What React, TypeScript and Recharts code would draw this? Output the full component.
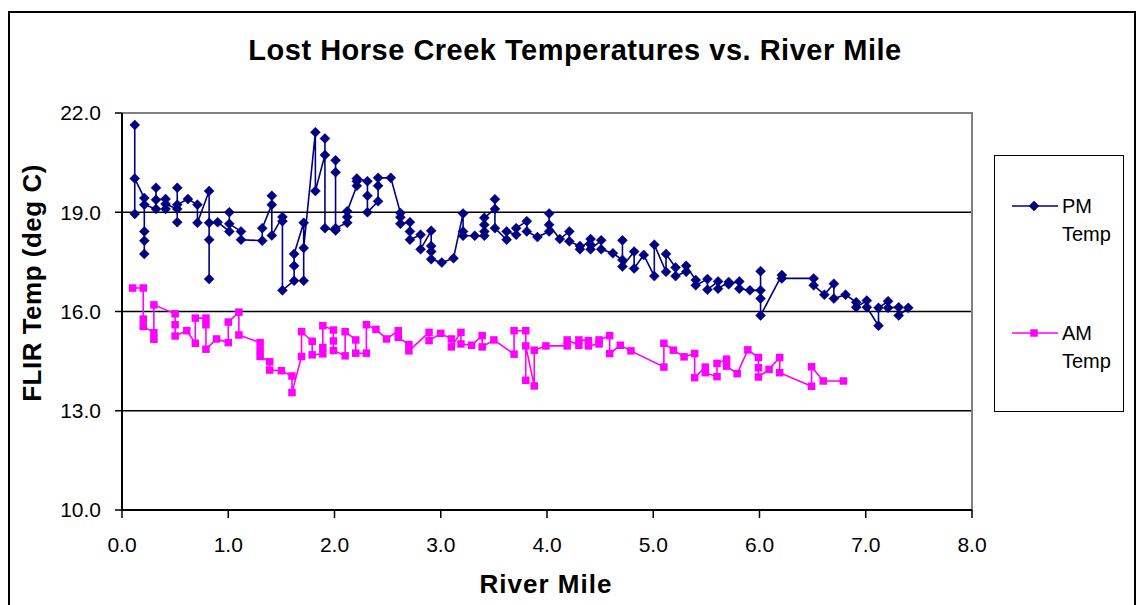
import React from "react";
import {
  ScatterChart,
  Scatter,
  XAxis,
  YAxis,
  CartesianGrid,
  ReferenceArea
} from "recharts";

const FONT = "Arial, 'Liberation Sans', sans-serif";

const xTicks = [0, 1, 2, 3, 4, 5, 6, 7, 8];
const yTicks = [10, 13, 16, 19, 22];
const gridY = [13, 16, 19];

// PM readings, in the order the points were joined
const pmMile = [
  0.12, 0.12, 0.12, 0.21, 0.21, 0.21, 0.21, 0.21, 0.32, 0.32, 0.32, 0.41, 0.41, 0.41,
  0.52, 0.52, 0.52, 0.52, 0.62, 0.71, 0.71, 0.82, 0.82, 0.82, 0.82, 0.9, 1.01, 1.01,
  1.01, 1.12, 1.12, 1.32, 1.32, 1.41, 1.41, 1.41, 1.51, 1.51, 1.51, 1.62, 1.62, 1.62,
  1.71, 1.71, 1.71, 1.82, 1.82, 1.91, 1.91, 1.91, 2.01, 2.01, 2.01, 2.01, 2.12, 2.12,
  2.12, 2.21, 2.21, 2.21, 2.31, 2.31, 2.31, 2.41, 2.41, 2.41, 2.53, 2.62, 2.62, 2.62,
  2.71, 2.71, 2.71, 2.81, 2.81, 2.91, 2.91, 2.91, 2.91, 3.01, 3.12, 3.21, 3.21, 3.21,
  3.32, 3.41, 3.41, 3.41, 3.41, 3.51, 3.51, 3.51, 3.62, 3.62, 3.71, 3.71, 3.81, 3.81,
  3.91, 4.02, 4.02, 4.02, 4.12, 4.21, 4.21, 4.31, 4.31, 4.41, 4.41, 4.41, 4.51, 4.51,
  4.62, 4.71, 4.71, 4.71, 4.82, 4.82, 4.91, 5.01, 5.01, 5.12, 5.12, 5.21, 5.21, 5.31,
  5.31, 5.4, 5.4, 5.51, 5.51, 5.61, 5.61, 5.71, 5.71, 5.81, 5.81, 5.91, 6.01, 6.01,
  6.01, 6.01, 6.21, 6.21, 6.51, 6.51, 6.61, 6.7, 6.7, 6.81, 6.91, 6.91, 7.01, 7.01,
  7.12, 7.12, 7.21, 7.21, 7.31, 7.31, 7.4
];
const pmTemp = [
  18.95, 21.64, 20.02, 19.43, 17.74, 18.14, 18.42, 19.23, 19.1, 19.74, 19.38, 19.4, 19.1, 19.25,
  19.1, 19.74, 18.7, 19.23, 19.4, 19.23, 18.68, 19.64, 16.98, 18.17, 18.68, 18.7, 18.42, 19.0,
  18.65, 18.42, 18.17, 18.14, 18.52, 19.23, 19.5, 18.3, 18.86, 18.73, 16.64, 16.93, 17.38, 17.74,
  18.68, 16.93, 17.92, 21.42, 19.64, 20.73, 21.23, 18.52, 18.45, 20.57, 20.21, 18.52, 18.68, 18.86,
  19.03, 19.8, 19.94, 20.02, 19.94, 19.5, 19.0, 19.33, 19.8, 20.04, 20.04, 18.98, 18.85, 18.65,
  18.7, 18.42, 18.17, 18.32, 17.88, 18.44, 17.98, 17.81, 17.58, 17.48, 17.61, 18.96, 18.42, 18.29,
  18.29, 18.29, 18.42, 18.62, 18.83, 19.1, 19.39, 18.52, 18.17, 18.42, 18.32, 18.52, 18.73, 18.42,
  18.25, 18.42, 18.96, 18.62, 18.19, 18.42, 18.12, 17.98, 17.88, 18.19, 18.02, 17.88, 18.15, 17.88,
  17.76, 17.56, 18.15, 17.36, 17.81, 17.3, 17.71, 17.07, 18.02, 17.2, 17.74, 17.33, 17.07, 17.2,
  17.38, 16.95, 16.79, 16.98, 16.66, 16.91, 16.69, 16.89, 16.82, 16.91, 16.69, 16.64, 16.64, 17.22,
  16.39, 15.88, 17.1, 17.0, 17.0, 16.79, 16.51, 16.84, 16.39, 16.51, 16.28, 16.13, 16.33, 16.13,
  15.57, 16.11, 16.31, 16.11, 16.13, 15.88, 16.11
];

// AM readings
const amMile = [
  0.1, 0.2, 0.2, 0.2, 0.3, 0.3, 0.3, 0.5, 0.5, 0.5, 0.61, 0.69, 0.69, 0.79, 0.79, 0.79,
  0.89, 1.0, 1.0, 1.1, 1.1, 1.3, 1.3, 1.3, 1.39, 1.39, 1.5, 1.6, 1.6, 1.69, 1.69, 1.79,
  1.79, 1.89, 1.89, 1.89, 1.99, 1.99, 1.99, 2.1, 2.1, 2.2, 2.2, 2.3, 2.3, 2.39, 2.49, 2.6,
  2.6, 2.7, 2.7, 2.89, 2.89, 3.0, 3.1, 3.1, 3.19, 3.19, 3.29, 3.39, 3.39, 3.5, 3.69, 3.69,
  3.8, 3.8, 3.8, 3.88, 3.88, 3.99, 4.19, 4.19, 4.3, 4.3, 4.39, 4.39, 4.49, 4.49, 4.59, 4.59,
  4.69, 4.79, 5.1, 5.1, 5.19, 5.29, 5.39, 5.39, 5.49, 5.49, 5.6, 5.6, 5.69, 5.69, 5.79, 5.89,
  5.99, 5.99, 5.99, 6.09, 6.19, 6.19, 6.49, 6.49, 6.6, 6.79
];
const amTemp = [
  16.71, 16.71, 15.77, 15.55, 15.36, 15.16, 16.2, 15.93, 15.6, 15.26, 15.42, 15.04, 15.8, 15.8, 15.6, 14.86,
  15.17, 15.06, 15.68, 15.98, 15.29, 15.06, 14.84, 14.64, 14.48, 14.23, 14.21, 14.05, 13.55, 14.64, 15.39, 15.1,
  14.69, 14.72, 14.91, 15.57, 15.44, 15.11, 14.82, 14.66, 15.39, 15.14, 14.74, 14.74, 15.6, 15.46, 15.17, 15.42,
  15.22, 15.0, 14.81, 15.37, 15.12, 15.34, 15.17, 14.93, 15.37, 15.02, 14.98, 15.27, 14.93, 15.14, 14.71, 15.42,
  15.42, 13.92, 14.96, 13.75, 14.83, 14.96, 14.96, 15.14, 14.98, 15.14, 15.12, 14.96, 15.02, 15.14, 15.27, 14.73,
  14.98, 14.81, 14.32, 15.04, 14.83, 14.63, 14.73, 14.0, 14.32, 14.15, 14.03, 14.43, 14.56, 14.35, 14.12, 14.84,
  14.61, 14.3, 14.02, 14.25, 14.61, 14.15, 13.74, 14.33, 13.9, 13.9
];

const pmData = pmMile.map((x, i) => ({ x, y: pmTemp[i] }));
const amData = amMile.map((x, i) => ({ x, y: amTemp[i] }));

const PM_COLOR = "#000080";
const AM_COLOR = "#FF00FF";

const Diamond = ({ cx, cy, r = 5, color }: any) => (
  <polygon
    points={`${cx},${cy - r} ${cx + r},${cy} ${cx},${cy + r} ${cx - r},${cy}`}
    fill={color}
    stroke={color}
    strokeWidth={0.5}
  />
);

const Square = ({ cx, cy, r = 3.75, color }: any) => (
  <rect x={cx - r} y={cy - r} width={r * 2} height={r * 2} fill={color} />
);

const fmt = (v: number) => v.toFixed(1);

export default function App() {
  const W = 1137;
  const H = 605;
  return (
    <div
      style={{
        position: "absolute",
        left: 0,
        top: 0,
        width: W,
        height: H,
        background: "#fff",
        overflow: "hidden",
        fontFamily: FONT,
        color: "#000"
      }}
    >
      <ScatterChart
        width={W}
        height={H}
        margin={{ top: 113, right: 165, bottom: 35, left: 42 }}
      >
        <CartesianGrid
          vertical={false}
          horizontalValues={gridY}
          stroke="#000"
          strokeWidth={1.5}
        />
        <ReferenceArea
          x1={0}
          x2={8}
          y1={10}
          y2={22}
          fill="none"
          stroke="#808080"
          strokeWidth={2}
        />
        <XAxis
          type="number"
          dataKey="x"
          domain={[0, 8]}
          ticks={xTicks}
          tickFormatter={fmt}
          height={60}
          tickSize={8}
          tickMargin={19}
          axisLine={{ stroke: "#000", strokeWidth: 2 }}
          tickLine={{ stroke: "#000", strokeWidth: 1.5 }}
          tick={{ fill: "#000", fontSize: 21, fontFamily: FONT }}
          interval={0}
        />
        <YAxis
          type="number"
          dataKey="y"
          domain={[10, 22]}
          ticks={yTicks}
          tickFormatter={fmt}
          width={80}
          tickSize={7}
          tickMargin={14}
          axisLine={{ stroke: "#000", strokeWidth: 2 }}
          tickLine={{ stroke: "#000", strokeWidth: 1.5 }}
          tick={{ fill: "#000", fontSize: 21, fontFamily: FONT }}
          interval={0}
        />
        <Scatter
          name="PM Temp"
          data={pmData}
          line={{ stroke: PM_COLOR, strokeWidth: 1.6 }}
          shape={(p: any) => <Diamond cx={p.cx} cy={p.cy} color={PM_COLOR} />}
          isAnimationActive={false}
        />
        <Scatter
          name="AM Temp"
          data={amData}
          line={{ stroke: AM_COLOR, strokeWidth: 1.6 }}
          shape={(p: any) => <Square cx={p.cx} cy={p.cy} color={AM_COLOR} />}
          isAnimationActive={false}
        />
      </ScatterChart>

      {/* outer chart frame, bottom edge runs off the page */}
      <div
        style={{
          position: "absolute",
          left: 8,
          top: 11,
          width: 1128,
          height: 700,
          border: "2px solid #000",
          boxSizing: "border-box",
          pointerEvents: "none"
        }}
      />

      <div
        style={{
          position: "absolute",
          left: 0,
          top: 36,
          width: 1150,
          textAlign: "center",
          fontSize: 29,
          lineHeight: 1,
          fontWeight: "bold",
          letterSpacing: 0.5
        }}
      >
        Lost Horse Creek Temperatures vs. River Mile
      </div>

      <div
        style={{
          position: "absolute",
          left: 346,
          top: 571,
          width: 400,
          textAlign: "center",
          fontSize: 26,
          lineHeight: 1,
          fontWeight: "bold",
          letterSpacing: 1
        }}
      >
        River Mile
      </div>

      <div
        style={{
          position: "absolute",
          left: 32,
          top: 283,
          transform: "translate(-50%, -50%) rotate(-90deg)",
          fontSize: 26,
          lineHeight: 1,
          fontWeight: "bold",
          letterSpacing: 0.5,
          whiteSpace: "nowrap"
        }}
      >
        FLIR Temp (deg C)
      </div>

      {/* legend */}
      <div
        style={{
          position: "absolute",
          left: 994,
          top: 155,
          width: 130,
          height: 257,
          border: "1.5px solid #000",
          boxSizing: "border-box",
          background: "#fff"
        }}
      >
        {[
          { label: ["PM", "Temp"], color: PM_COLOR, top: 36, kind: "diamond" },
          { label: ["AM", "Temp"], color: AM_COLOR, top: 163, kind: "square" }
        ].map((item) => (
          <div key={item.label[0]} style={{ position: "absolute", left: 0, top: item.top, width: 128 }}>
            <svg width={50} height={28} style={{ position: "absolute", left: 15, top: 0 }}>
              <line x1={2} y1={14} x2={48} y2={14} stroke={item.color} strokeWidth={1.5} />
              {item.kind === "diamond" ? (
                <Diamond cx={24} cy={14} color={item.color} />
              ) : (
                <Square cx={24} cy={14} color={item.color} />
              )}
            </svg>
            <div
              style={{
                position: "absolute",
                left: 67,
                top: 0,
                fontSize: 20,
                lineHeight: "28px"
              }}
            >
              <div>{item.label[0]}</div>
              <div>{item.label[1]}</div>
            </div>
          </div>
        ))}
      </div>
    </div>
  );
}
